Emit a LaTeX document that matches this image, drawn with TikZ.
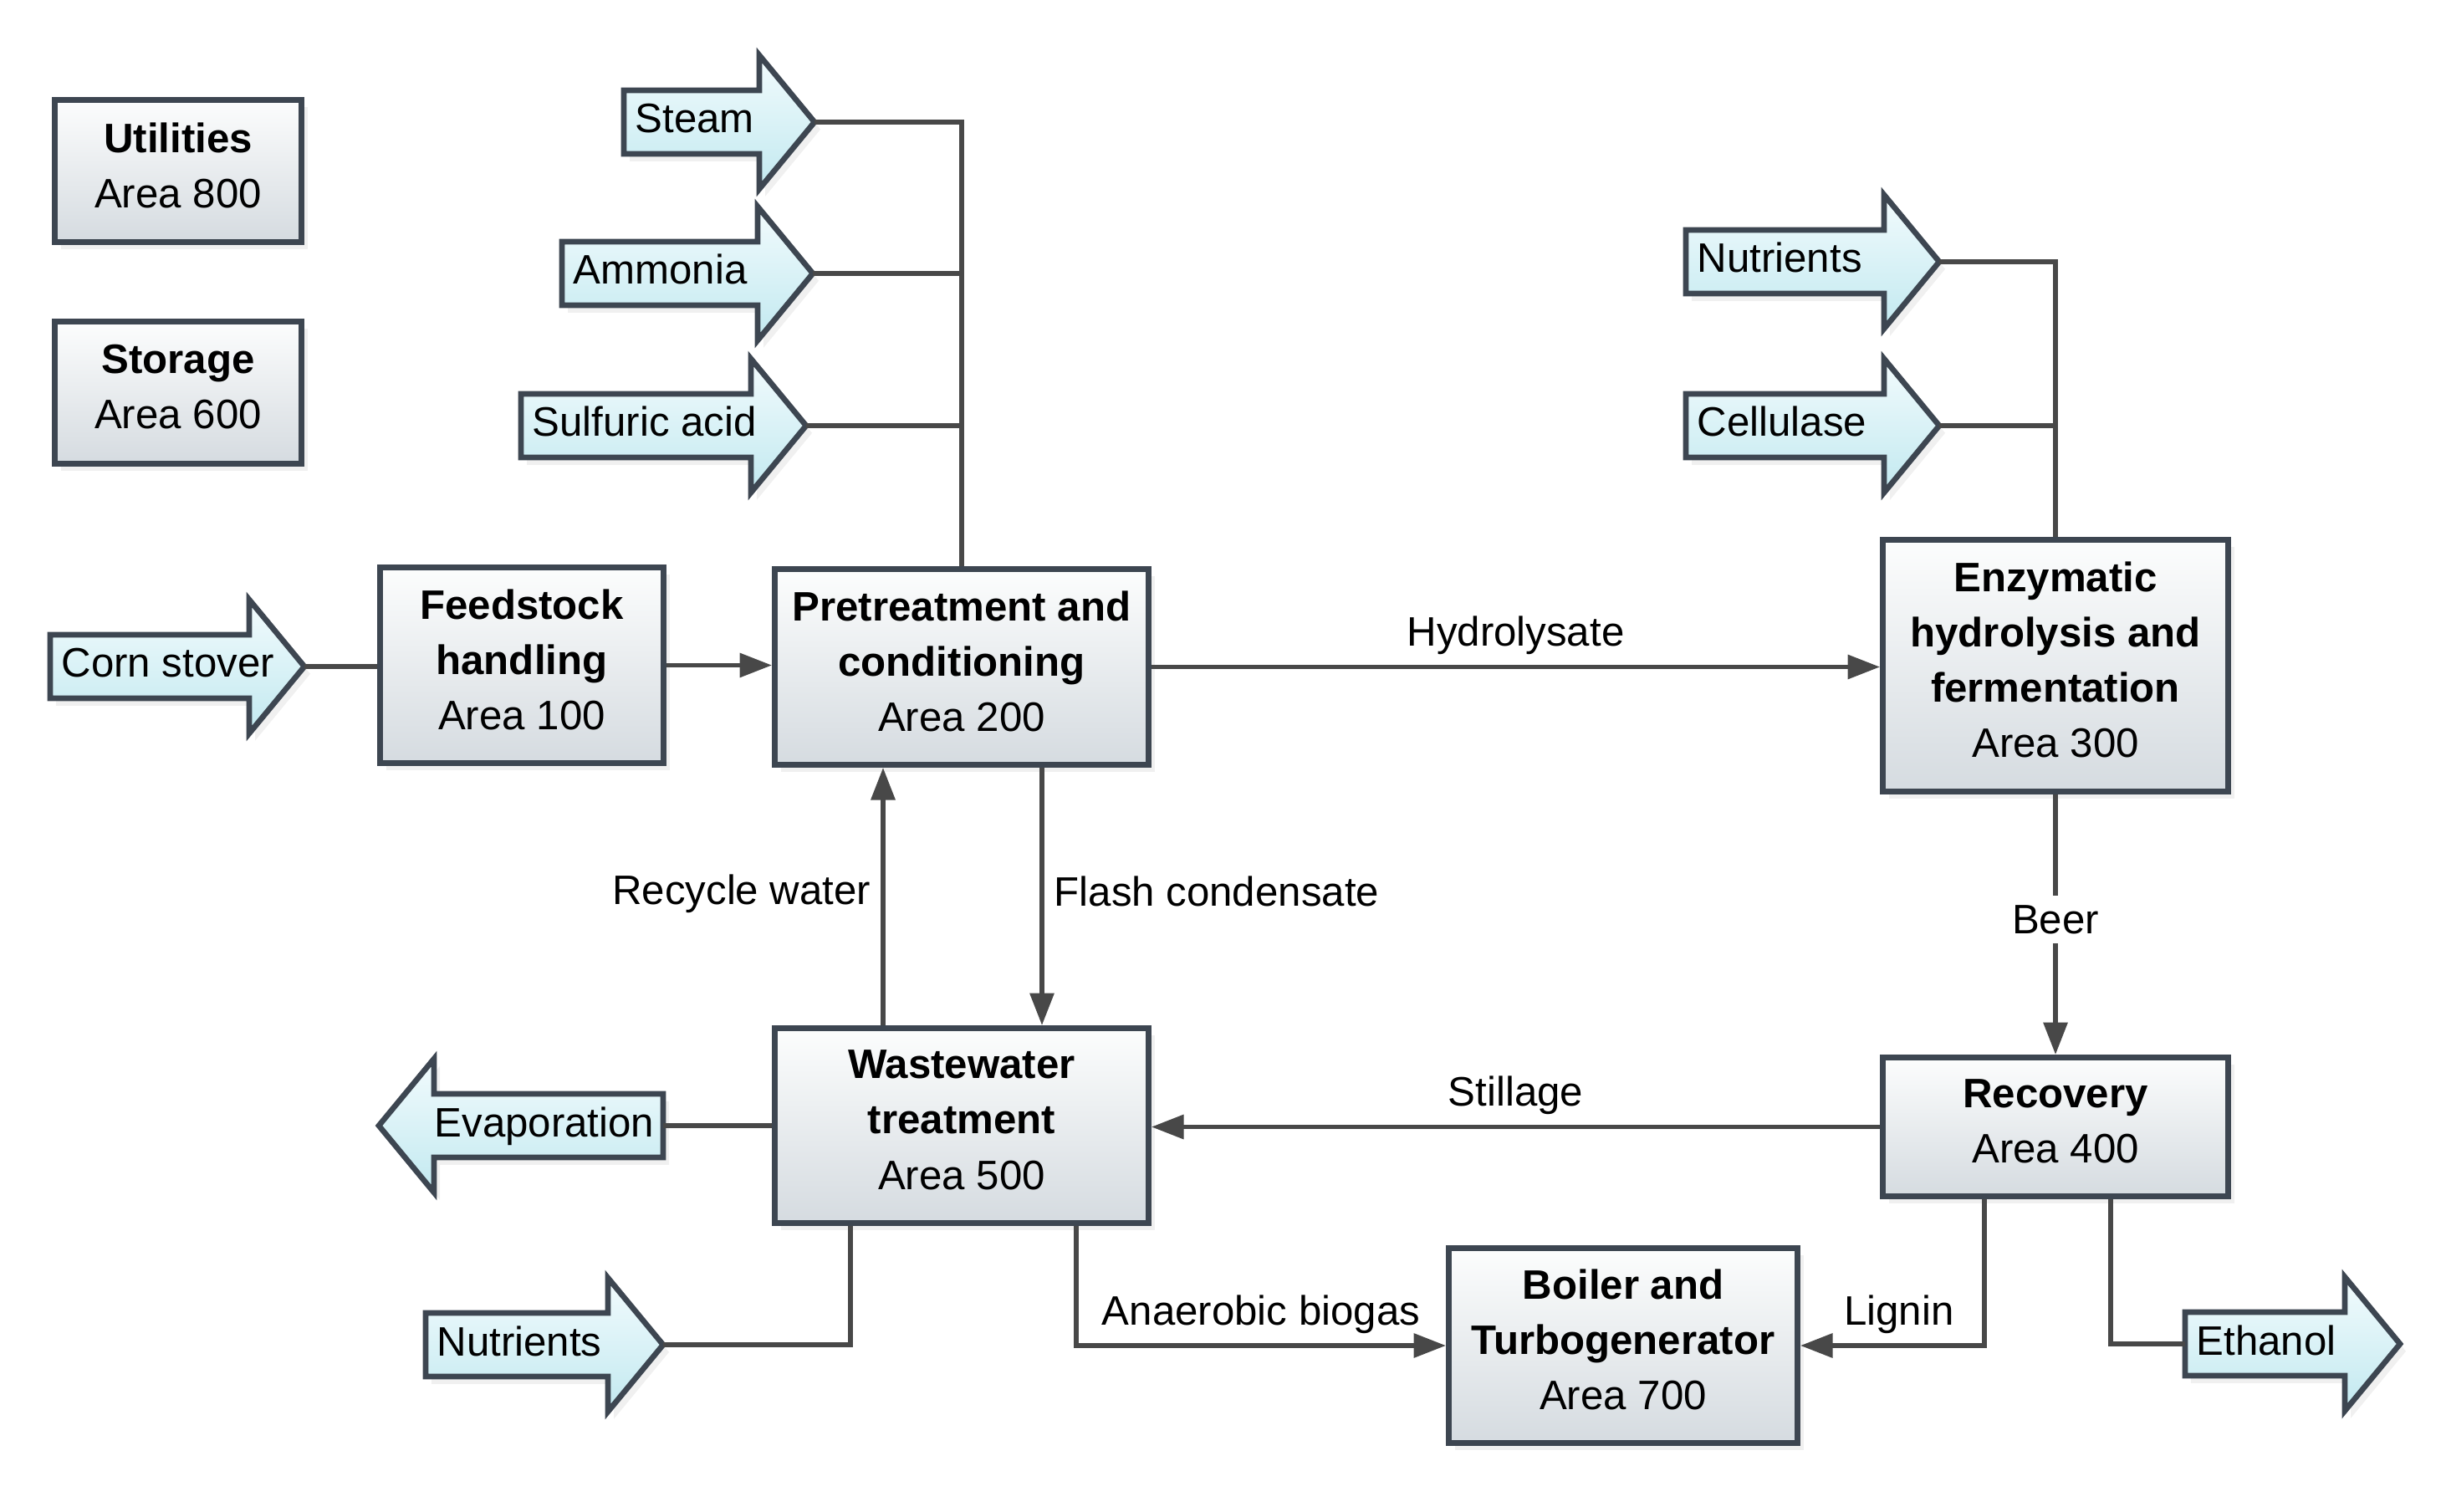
\documentclass[tikz,border=0pt]{standalone}
\usepackage{fontspec}
\setmainfont{Liberation Sans}
\usetikzlibrary{arrows.meta,calc,shadows}
\definecolor{box_edge}{RGB}{61,70,81}
\definecolor{box_top}{RGB}{252,253,253}
\definecolor{box_bot}{RGB}{213,219,224}
\definecolor{flow_top}{RGB}{242,251,253}
\definecolor{flow_bot}{RGB}{194,233,240}
\definecolor{pipe_grey}{RGB}{72,72,72}
\tikzstyle{area}=[rectangle,draw=box_edge,line width=1.9pt,top color=box_top,bottom color=box_bot,
  align=center,font=\fontsize{14}{18.8}\selectfont,inner sep=2pt,
  drop shadow={shadow xshift=2pt,shadow yshift=-2.5pt,opacity=0.12}]
\tikzstyle{stream}=[draw=box_edge,line width=1.9pt,top color=flow_top,bottom color=flow_bot,
  drop shadow={shadow xshift=2pt,shadow yshift=-2.5pt,opacity=0.12}]
\tikzstyle{streamtxt}=[font=\fontsize{14}{18.8}\selectfont,inner sep=0pt]
\tikzstyle{pipe}=[draw=pipe_grey,line width=1.7pt]
\tikzstyle{feed}=[pipe,-{Triangle[length=11pt,width=8pt]}]
\tikzstyle{lbl}=[font=\fontsize{14}{18.8}\selectfont]
% last line of an area box
\newcommand{\areano}[1]{Area #1\rule[-0.14cm]{0pt}{0pt}}
% block arrow pointing right: name, left x, tip x, y, text
\newcommand{\instream}[5]{%
  \path[stream] (#2,#4-0.38) -- (#3-0.66,#4-0.38) -- (#3-0.66,#4-0.8) -- (#3,#4)
    -- (#3-0.66,#4+0.8) -- (#3-0.66,#4+0.38) -- (#2,#4+0.38) -- cycle;
  \node[streamtxt,anchor=base west] (#1) at (#2+0.13,#4+0.13) {#5};
  \coordinate (#1-tip) at (#3,#4);
  \coordinate (#1-tail) at (#2,#4);
}
% block arrow pointing left: name, tip x, right x, y, text
\newcommand{\outstream}[5]{%
  \path[stream] (#3,#4-0.38) -- (#2+0.66,#4-0.38) -- (#2+0.66,#4-0.8) -- (#2,#4)
    -- (#2+0.66,#4+0.8) -- (#2+0.66,#4+0.38) -- (#3,#4+0.38) -- cycle;
  \node[streamtxt,anchor=base east] (#1) at (#3-0.1,#4+0.13) {#5};
  \coordinate (#1-tip) at (#2,#4);
  \coordinate (#1-tail) at (#3,#4);
}

\begin{document}
\begin{tikzpicture}[y=-1cm]
    \useasboundingbox (0,0) rectangle (29.25,18.08);
    % areas
    \node [area, minimum width=2.95cm, minimum height=1.70cm] (util) at (2.13,2.045) {\textbf{Utilities}\\\areano{800}};
    \node [area, minimum width=2.95cm, minimum height=1.70cm] (stor) at (2.13,4.695) {\textbf{Storage}\\\areano{600}};
    \node [area, minimum width=3.39cm, minimum height=2.34cm] (feed) at (6.24,7.955) {\textbf{Feedstock}\\\textbf{handling}\\\areano{100}};
    \node [area, minimum width=4.47cm, minimum height=2.34cm] (pre) at (11.50,7.975) {\textbf{Pretreatment and}\\\textbf{conditioning}\\\areano{200}};
    \node [area, minimum width=4.13cm, minimum height=3.01cm] (enz) at (24.58,7.96) {\textbf{Enzymatic}\\\textbf{hydrolysis and}\\\textbf{fermentation}\\\areano{300}};
    \node [area, minimum width=4.47cm, minimum height=2.33cm] (ww) at (11.50,13.46) {\textbf{Wastewater}\\\textbf{treatment}\\\areano{500}};
    \node [area, minimum width=4.13cm, minimum height=1.66cm] (rec) at (24.58,13.475) {\textbf{Recovery}\\\areano{400}};
    \node [area, minimum width=4.17cm, minimum height=2.33cm] (boil) at (19.41,16.09) {\textbf{Boiler and}\\\textbf{Turbogenerator}\\\areano{700}};
    % streams in and out
    \instream{steam}{7.46}{9.74}{1.46}{Steam}
    \instream{amm}{6.72}{9.72}{3.27}{Ammonia}
    \instream{sulf}{6.23}{9.64}{5.09}{Sulfuric acid}
    \instream{corn}{0.60}{3.64}{7.97}{Corn stover}
    \instream{nutr}{20.16}{23.19}{3.13}{Nutrients}
    \instream{cell}{20.16}{23.19}{5.09}{Cellulase}
    \instream{nutrw}{5.09}{7.93}{16.08}{Nutrients}
    \instream{eth}{26.13}{28.70}{16.07}{Ethanol}
    \outstream{evap}{4.53}{7.93}{13.46}{Evaporation}
    % connectors
    \draw [pipe] (steam-tip) -| (pre.north);
    \draw [pipe] (amm-tip) -- (amm-tip -| pre.north);
    \draw [pipe] (sulf-tip) -- (sulf-tip -| pre.north);
    \draw [pipe] (nutr-tip) -| (enz.north);
    \draw [pipe] (cell-tip) -- (cell-tip -| enz.north);
    \draw [pipe] (corn-tip) -- (corn-tip -| feed.west);
    \draw [feed] (feed.east) -- (feed.east -| pre.west);
    \draw [feed] (pre.east) -- node [lbl, above] {Hydrolysate} (pre.east -| enz.west);
    \draw [feed] (enz.south) -- node [lbl, fill=white, yshift=0.06cm] {Beer} (rec.north);
    \draw [feed] (rec.west) -- node [lbl, above] {Stillage} (rec.west -| ww.east);
    \draw [feed] ([xshift=0.96cm]pre.south) -- node [lbl, right, yshift=0.06cm] {Flash condensate} ([xshift=0.96cm]ww.north);
    \draw [feed] ([xshift=-0.94cm]ww.north) -- node [lbl, left, yshift=0.03cm] {Recycle water} ([xshift=-0.94cm]pre.south);
    \draw [pipe] (ww.west) -- (evap-tail);
    \draw [pipe] ([xshift=-1.33cm]ww.south) |- (nutrw-tip);
    \draw [feed] ([xshift=1.37cm]ww.south) |- node [lbl, above, pos=0.75] {Anaerobic biogas} (boil.west);
    \draw [feed] ([xshift=-0.85cm]rec.south) |- node [lbl, above, pos=0.75, xshift=0.08cm] {Lignin} (boil.east);
    \draw [pipe] ([xshift=0.66cm]rec.south) |- (eth-tail);
\end{tikzpicture}
\end{document}
